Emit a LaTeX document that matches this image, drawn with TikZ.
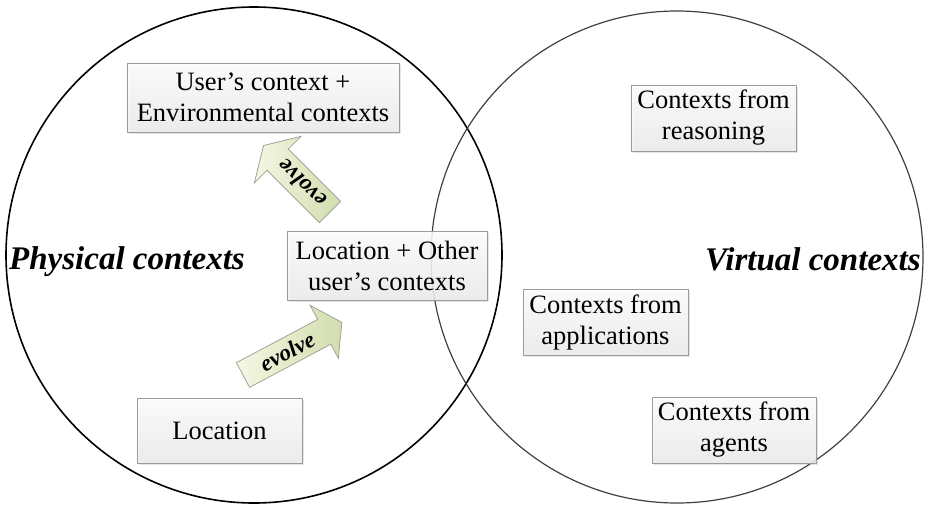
\documentclass[tikz,border=0pt]{standalone}
\usepackage{fontspec}
\setmainfont{Liberation Serif}
\usetikzlibrary{shadows}
\definecolor{boxline}{HTML}{9A9A9A}
\definecolor{boxshade}{HTML}{EDEDED}
\definecolor{arrowA}{HTML}{F4F7E4}
\definecolor{arrowB}{HTML}{D2DDAE}
\definecolor{arrowline}{HTML}{9FA698}
\definecolor{rightcirc}{HTML}{404040}
\begin{document}
\begin{tikzpicture}[x=1pt,y=-1pt,
  ctxbox/.style={draw=boxline, line width=0.9pt, top color=white, bottom color=boxshade,
    fill opacity=0.85, text opacity=1, align=center, inner sep=0pt,
    font=\fontsize{26.5}{31}\selectfont,
    drop shadow={shadow xshift=1.5pt, shadow yshift=-1.5pt, opacity=0.2, fill=gray}},
  evolvearrow/.style={draw=arrowline, line width=0.8pt, left color=arrowA, right color=arrowB},
  evolvetext/.style={font=\fontsize{23}{23}\selectfont\bfseries\itshape, inner sep=0pt},
  bigtitle/.style={font=\fontsize{33}{33}\selectfont\bfseries\itshape, inner sep=0pt}]
\useasboundingbox (0,0) rectangle (929,507);

% circles
\draw[line width=1.6pt, black] (254,255) circle[radius=248pt];
\draw[line width=1.2pt, rightcirc] (677,257) circle[radius=246pt];

% titles
\node[bigtitle, anchor=base west] (phys) at (9,269) {Physical contexts};
\node[bigtitle, anchor=base west] (virt) at (705,270) {Virtual contexts};

% boxes
\node[ctxbox, minimum width=272pt, minimum height=69pt] (env) at (263,97.5)
  {User’s context +\\Environmental contexts};
\node[ctxbox, minimum width=200pt, minimum height=69pt] (locother) at (387,265.5)
  {Location + Other\\user’s contexts};
\node[ctxbox, minimum width=165pt, minimum height=65pt] (loc) at (219.5,430.5)
  {Location};
\node[ctxbox, minimum width=165pt, minimum height=66pt] (reason) at (713.5,118)
  {Contexts from\\reasoning};
\node[ctxbox, minimum width=165pt, minimum height=66pt] (apps) at (605.5,322)
  {Contexts from\\applications};
\node[ctxbox, minimum width=164pt, minimum height=66pt] (agents) at (734,430)
  {Contexts from\\agents};

% evolve arrow 1 (Location -> Location + Other)
\begin{scope}[shift={(243,375)}, rotate=28]
  \coordinate (a1tail) at (0,0);
  \path[evolvearrow] (0,-14) -- (92,-14) -- (92,-30) -- (112,0) -- (92,30) -- (92,14) -- (0,14) -- cycle;
  \node[evolvetext, rotate=28] (ev1) at (50,0) {evolve};
\end{scope}

% evolve arrow 2 (Location + Other -> User's context)
\begin{scope}[shift={(330,212)}, rotate=135]
  \coordinate (a2tail) at (0,0);
  \path[evolvearrow] (0,-15) -- (74,-15) -- (74,-33) -- (94,0) -- (74,33) -- (74,15) -- (0,15) -- cycle;
  \node[evolvetext, rotate=135] (ev2) at (40,0) {evolve};
\end{scope}
\end{tikzpicture}
\end{document}
